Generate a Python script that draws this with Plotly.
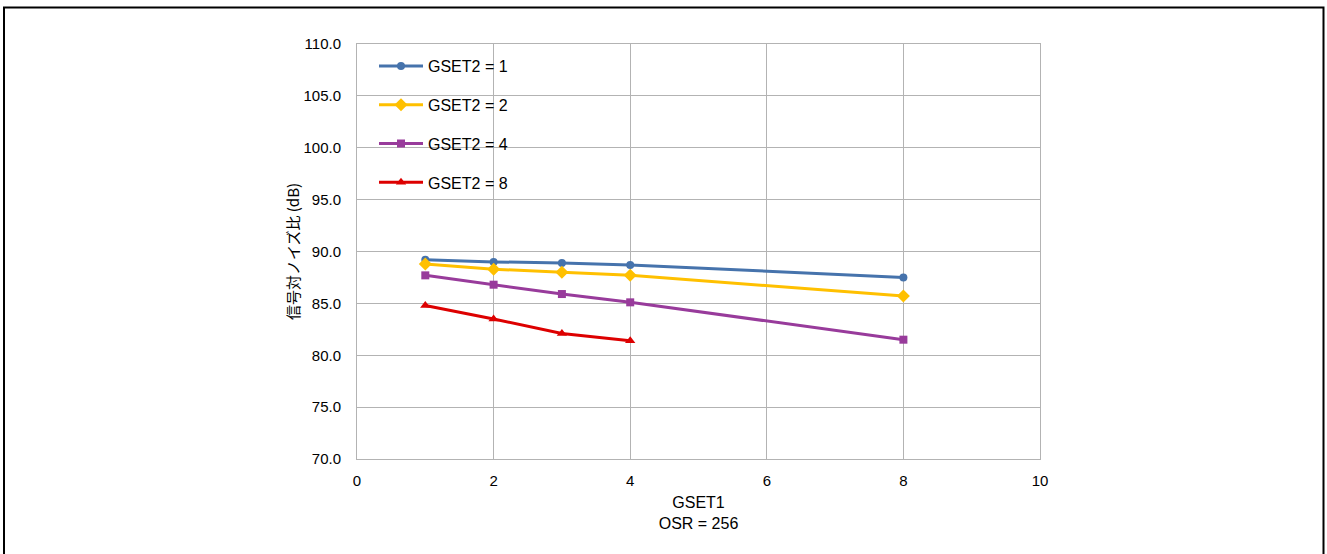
import plotly.graph_objects as go

gset1 = [1, 2, 3, 4, 8]
gset1_g8 = [1, 2, 3, 4]
snr_g1 = [89.2, 89.0, 88.9, 88.7, 87.5]
snr_g2 = [88.8, 88.3, 88.0, 87.7, 85.7]
snr_g4 = [87.7, 86.8, 85.9, 85.1, 81.5]
snr_g8 = [84.8, 83.5, 82.1, 81.4]

series = [
    ("GSET2 = 1", gset1, snr_g1, "#4673AC", "circle", 8),
    ("GSET2 = 2", gset1, snr_g2, "#FFC000", "diamond", 10),
    ("GSET2 = 4", gset1, snr_g4, "#983B9B", "square", 8),
    ("GSET2 = 8", gset1_g8, snr_g8, "#DD0000", "triangle-up", 9),
]

fig = go.Figure()
for i, (name, xs, ys, col, sym, sz) in enumerate(series):
    fig.add_trace(go.Scatter(
        x=xs, y=ys, name=name, mode="lines+markers",
        line=dict(color=col, width=3),
        marker=dict(color=col, symbol=sym, size=sz),
        legendgroup=f"g{i}",
    ))

W, H = 1327, 554
PL, PR, PT, PB = 357, 1040, 44, 459   # plot area in screenshot pixels
L, T, R, B = PL, PT, W - PR, H - PB
pw, ph = PR - PL, PB - PT

def px_x(p):
    return (p - PL) / pw

def px_y(p):
    return (PB - p) / ph

fig.add_shape(type="rect", xref="paper", yref="paper",
              x0=px_x(4), x1=px_x(1323.5), y0=px_y(600), y1=px_y(7.5),
              line=dict(color="black", width=2), fillcolor="rgba(0,0,0,0)")

font = "Liberation Sans, Arial, sans-serif"
fig.update_layout(
    width=W, height=H,
    margin=dict(l=L, r=R, t=T, b=B),
    paper_bgcolor="white", plot_bgcolor="white",
    font=dict(family=font, size=15, color="black"),
    showlegend=True,
    legend=dict(x=px_x(374), y=px_y(49), xanchor="left", yanchor="top",
                bgcolor="rgba(0,0,0,0)", font=dict(size=16, family=font),
                tracegroupgap=15, itemwidth=44),
    xaxis=dict(range=[0, 10], dtick=2, tick0=0, showgrid=True,
               gridcolor="#B3B3B3", gridwidth=1,
               showline=True, linecolor="#B3B3B3", linewidth=1, mirror=True,
               ticks="", zeroline=False, ticklabelstandoff=8,
               tickfont=dict(size=15),
               title=dict(text="GSET1<br>OSR = 256", font=dict(size=16), standoff=8)),
    yaxis=dict(range=[70, 110], dtick=5, tick0=70, tickformat=".1f",
               showgrid=True, gridcolor="#B3B3B3", gridwidth=1,
               showline=True, linecolor="#B3B3B3", linewidth=1, mirror=True,
               ticks="", zeroline=False, ticklabelstandoff=12,
               tickfont=dict(size=15),
               title=dict(text="信号対ノイズ比 (dB)", font=dict(size=15,
                          family="Noto Sans CJK JP, " + font), standoff=0)),
)

fig.write_html("out.html",
               config={"displayModeBar": False},
               post_script="document.body.style.margin='0';"
                           "document.body.style.overflow='hidden';")
